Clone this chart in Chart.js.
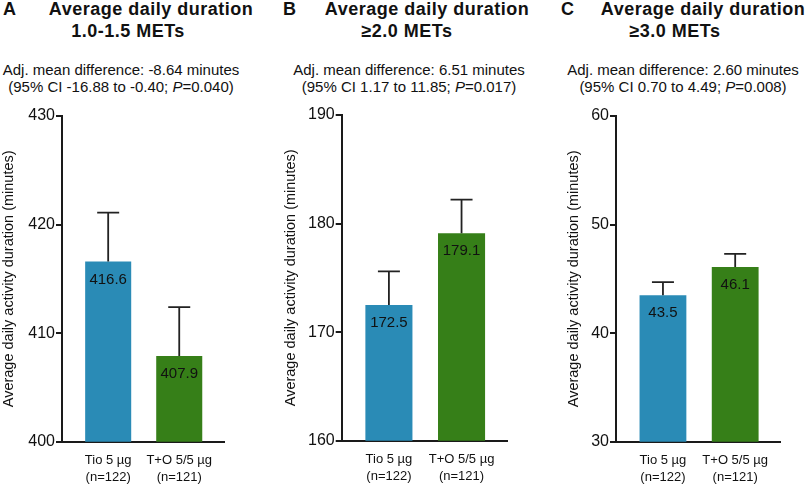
<!DOCTYPE html>
<html>
<head>
<meta charset="utf-8">
<script src="https://cdn.jsdelivr.net/npm/chart.js@4"></script>
<style>
  body { margin: 0; background: #fff; }
  #wrap { position: relative; width: 810px; height: 484px; overflow: hidden; font-family: "Liberation Sans", Arial, sans-serif; color: #111; }
  .t { position: absolute; white-space: nowrap; }
  .letter { font-weight: bold; font-size: 18px; letter-spacing: 0.5px; }
  .head { font-weight: bold; font-size: 18px; letter-spacing: 0.5px; text-align: center; width: 400px; }
  .sub { font-size: 15px; text-align: center; width: 400px; line-height: 17px; }
  canvas { position: absolute; top: 100px; }
</style>
</head>
<body>
<div id="wrap"></div>
<script>
// data
const groups = ['Tio 5 µg', 'T+O 5/5 µg'];
const groupN = ['(n=122)', '(n=121)'];
const panelLetters = ['A', 'B', 'C'];
const titleLine1 = 'Average daily duration';
const titleLine2 = ['1.0-1.5 METs', '≥2.0 METs', '≥3.0 METs'];
const diffText = ['Adj. mean difference: -8.64 minutes', 'Adj. mean difference: 6.51 minutes', 'Adj. mean difference: 2.60 minutes'];
const ciText = ['95% CI -16.88 to -0.40', '95% CI 1.17 to 11.85', '95% CI 0.70 to 4.49'];
const pValues = ['0.040', '0.017', '0.008'];
const yTitle = 'Average daily activity duration (minutes)';

const meansA = [416.6, 407.9];
const errA = [4.5, 4.5];
const meansB = [172.5, 179.1];
const errB = [3.1, 3.1];
const meansC = [43.5, 46.1];
const errC = [1.2, 1.2];
const yMin = [400, 160, 30];
const yMax = [430, 190, 60];

const means = [meansA, meansB, meansC];
const errs = [errA, errB, errC];
const barColors = ['#2a8bb6', '#367f18'];

// layout (pixels in the 810x484 page)
const panels = [
  { left: 0,   axisX: 62,    endX: 224,   top: 116, bottom: 441.7, yTitleX: 9,  letterX: 3,   head1: 151, head2: 128, sub: 121 },
  { left: 270, axisX: 341.7, endX: 507.3, top: 115, bottom: 440.7, yTitleX: 21, letterX: 283, head1: 427, head2: 407, sub: 409 },
  { left: 540, axisX: 616,   endX: 780.7, top: 116, bottom: 441.7, yTitleX: 34, letterX: 561, head1: 703, head2: 675, sub: 683 }
];

const wrap = document.getElementById('wrap');

function addText(cls, html, left, top) {
  let d = document.createElement('div');
  d.className = 't ' + cls;
  d.innerHTML = html;
  d.style.left = left + 'px';
  d.style.top = top + 'px';
  wrap.appendChild(d);
}

// error bars drawn through the y scale
const errorBars = {
  id: 'errorBars',
  afterDatasetsDraw(chart) {
    const ctx = chart.ctx;
    const meta = chart.getDatasetMeta(0);
    const yScale = chart.scales.y;
    const e = chart.config.options.plugins.errorBars.errors;
    const vals = chart.data.datasets[0].data;
    ctx.save();
    ctx.strokeStyle = '#222';
    ctx.lineWidth = 1.8;
    meta.data.forEach((bar, i) => {
      const yTop = yScale.getPixelForValue(vals[i].y + e[i]);
      ctx.beginPath();
      ctx.moveTo(bar.x, bar.y);
      ctx.lineTo(bar.x, yTop);
      ctx.moveTo(bar.x - 11, yTop);
      ctx.lineTo(bar.x + 11, yTop);
      ctx.stroke();
    });
    ctx.restore();
  }
};

// value written inside the top of each bar
const barValues = {
  id: 'barValues',
  afterDatasetsDraw(chart) {
    const ctx = chart.ctx;
    const meta = chart.getDatasetMeta(0);
    const vals = chart.data.datasets[0].data;
    ctx.save();
    ctx.fillStyle = '#111';
    ctx.font = '15px "Liberation Sans", Arial, sans-serif';
    ctx.textAlign = 'center';
    ctx.textBaseline = 'middle';
    meta.data.forEach((bar, i) => {
      ctx.fillText(vals[i].y.toFixed(1), bar.x, bar.y + 18);
    });
    ctx.restore();
  }
};

panels.forEach((p, k) => {
  addText('letter', panelLetters[k], p.letterX, -1);
  addText('head', titleLine1, p.head1 - 200, -1);
  addText('head', titleLine2[k], p.head2 - 200, 21);
  addText('sub', diffText[k] + '<br>(' + ciText[k] + '; <i>P</i>=' + pValues[k] + ')', p.sub - 200, 61);

  let canvas = document.createElement('canvas');
  canvas.width = 270;
  canvas.height = 384;
  canvas.style.left = p.left + 'px';
  wrap.appendChild(canvas);

  new Chart(canvas.getContext('2d'), {
    type: 'bar',
    data: {
      datasets: [{
        data: means[k].map((v, i) => ({ x: i + 1, y: v })),
        backgroundColor: barColors,
        borderWidth: 0,
        barPercentage: 0.648,
        categoryPercentage: 1
      }]
    },
    options: {
      responsive: false,
      animation: false,
      events: [],
      layout: {
        padding: { left: 0, right: p.left + 270 - p.endX, top: p.top - 100, bottom: 0 }
      },
      scales: {
        x: {
          type: 'linear',
          offset: false,
          min: 0.35,
          max: 2.63,
          afterBuildTicks: s => { s.ticks = [{ value: 1 }, { value: 2 }]; },
          afterFit: s => { s.height = 484 - p.bottom; },
          grid: { display: false, drawTicks: false, tickLength: 0 },
          border: { display: true, color: '#1a1a1a', width: 2 },
          ticks: {
            autoSkip: false,
            maxRotation: 0,
            padding: 10,
            color: '#111',
            font: { family: '"Liberation Sans", Arial, sans-serif', size: 13, lineHeight: 1.3 },
            callback: v => [groups[v - 1], groupN[v - 1]]
          }
        },
        y: {
          min: yMin[k],
          max: yMax[k],
          afterFit: s => { s.width = p.axisX - p.left; },
          grid: { drawOnChartArea: false, drawTicks: true, tickLength: 6, color: '#1a1a1a', lineWidth: 2 },
          border: { display: true, color: '#1a1a1a', width: 2 },
          ticks: {
            stepSize: 10,
            padding: 1,
            color: '#111',
            font: { family: '"Liberation Sans", Arial, sans-serif', size: 16 }
          },
          title: {
            display: true,
            text: yTitle,
            color: '#111',
            padding: { top: p.yTitleX - 8.7, bottom: 0 },
            font: { family: '"Liberation Sans", Arial, sans-serif', size: 14.5, lineHeight: 1.2 }
          }
        }
      },
      plugins: {
        legend: { display: false },
        tooltip: { enabled: false },
        errorBars: { errors: errs[k] }
      }
    },
    plugins: [errorBars, barValues]
  });
});
</script>
</body>
</html>
